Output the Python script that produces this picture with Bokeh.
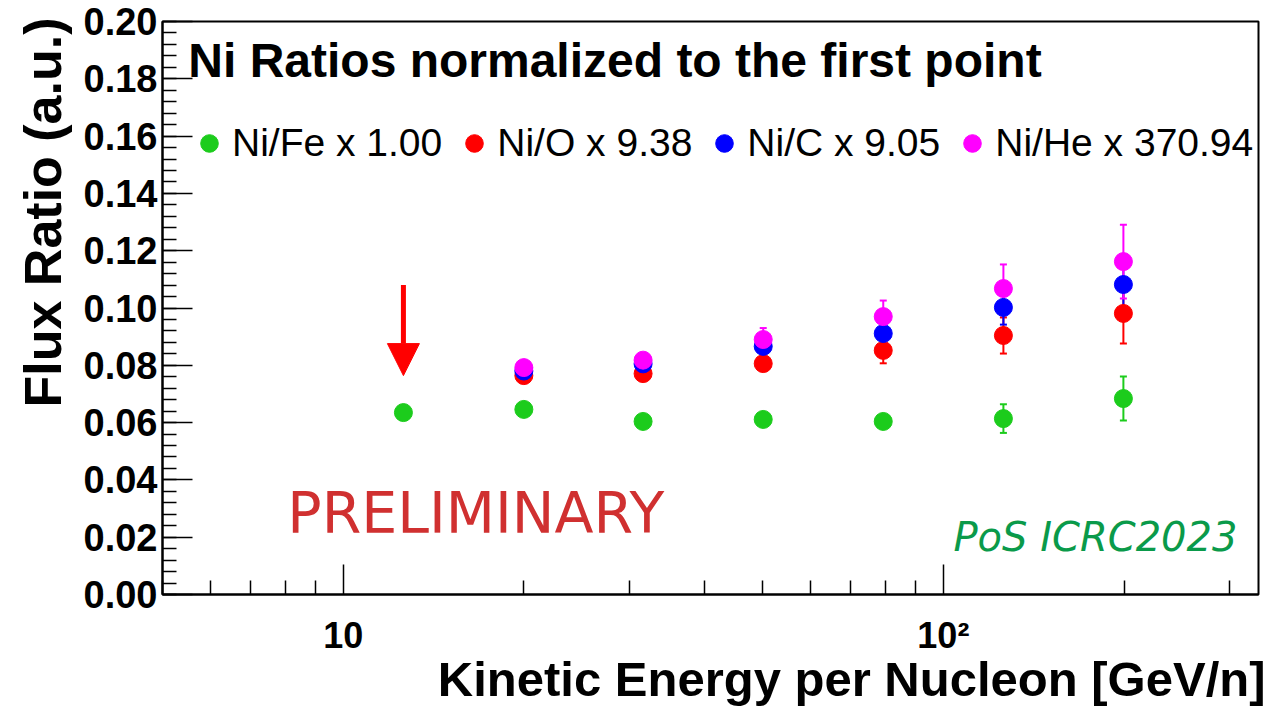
from bokeh.plotting import figure
from bokeh.models import (ColumnDataSource, Whisker, TeeHead, Legend, LegendItem, Label,
                          Arrow, NormalHead, FixedTicker, SingleIntervalTicker,
                          PrintfTickFormatter, Range1d, Title)
from bokeh.embed import file_html
from bokeh.resources import INLINE

# ---- data ----
energy_fe = [12.6, 20.0, 31.6, 50.1, 79.4, 125.9, 199.5]
ni_fe = [0.0635, 0.0646, 0.0604, 0.0611, 0.0604, 0.0614, 0.0684]
ni_fe_err = [0.0008, 0.0010, 0.0010, 0.0015, 0.0020, 0.0050, 0.0077]

energy_other = [20.0, 31.6, 50.1, 79.4, 125.9, 199.5]
ni_o = [0.0764, 0.0771, 0.0806, 0.0852, 0.0904, 0.0981]
ni_o_err = [0.0010, 0.0015, 0.0020, 0.0045, 0.0063, 0.0105]
ni_c = [0.0780, 0.0805, 0.0866, 0.0911, 0.1002, 0.1082]
ni_c_err = [0.0010, 0.0015, 0.0025, 0.0040, 0.0060, 0.0090]
ni_he = [0.0792, 0.0818, 0.0890, 0.0970, 0.1068, 0.1162]
ni_he_err = [0.0010, 0.0015, 0.0040, 0.0056, 0.0084, 0.0129]

series_labels = ["Ni/Fe x 1.00", "Ni/O x 9.38", "Ni/C x 9.05", "Ni/He x 370.94"]
series_colors = ["#1ccc1c", "#ff0000", "#0000ff", "#ff00ff"]

x_major_ticks = [10, 100]
x_minor_ticks = [5, 6, 7, 8, 9, 20, 30, 40, 50, 60, 70, 80, 90, 200, 300]

FONT = "Liberation Sans"

p = figure(width=1275, height=706, x_axis_type="log",
           x_range=Range1d(5, 335), y_range=Range1d(0, 0.2),
           output_backend="svg", toolbar_location=None,
           min_border_left=162, min_border_right=17,
           min_border_top=21, min_border_bottom=112)
p.xgrid.visible = False
p.ygrid.visible = False
p.outline_line_color = "black"
p.outline_line_width = 2
p.background_fill_color = "white"
p.border_fill_color = "white"

# axes
p.xaxis.ticker = FixedTicker(ticks=x_major_ticks, minor_ticks=x_minor_ticks)
p.xaxis.major_label_overrides = {10: "10", 100: "10²"}
p.yaxis.ticker = SingleIntervalTicker(interval=0.02, num_minor_ticks=5)
p.yaxis.formatter = PrintfTickFormatter(format="%.2f")

for ax in (p.xaxis[0], p.yaxis[0]):
    ax.axis_line_color = "black"
    ax.axis_line_width = 2
    ax.major_tick_in = 30
    ax.major_tick_out = 0
    ax.minor_tick_in = 14
    ax.minor_tick_out = 0
    ax.major_tick_line_color = "black"
    ax.minor_tick_line_color = "black"
    ax.major_tick_line_width = 1.5
    ax.minor_tick_line_width = 1.5
    ax.major_label_text_font = FONT
    ax.major_label_text_font_style = "bold"
    ax.major_label_text_color = "black"

p.yaxis.major_label_text_font_size = "38px"
p.yaxis.major_label_standoff = 5
p.xaxis.major_label_text_font_size = "36px"
p.xaxis.major_label_standoff = 20

# axis titles (ROOT style: aligned to the axis end)
p.add_layout(Title(text="Kinetic Energy per Nucleon [GeV/n]", align="right",
                   offset=-7, standoff=-18, text_font=FONT, text_font_style="bold",
                   text_font_size="49px", text_color="black"), "below")
p.add_layout(Title(text="Flux Ratio (a.u.)", align="right", offset=-4, standoff=18,
                   text_font=FONT, text_font_style="bold",
                   text_font_size="52px", text_color="black"), "left")

# data
datasets = [
    (energy_fe, ni_fe, ni_fe_err),
    (energy_other, ni_o, ni_o_err),
    (energy_other, ni_c, ni_c_err),
    (energy_other, ni_he, ni_he_err),
]
items = []
for (ex, yv, ye), lab, col in zip(datasets, series_labels, series_colors):
    src = ColumnDataSource(dict(x=ex, y=yv,
                                lo=[a - b for a, b in zip(yv, ye)],
                                hi=[a + b for a, b in zip(yv, ye)]))
    w = Whisker(base="x", upper="hi", lower="lo", source=src, dimension="height",
                line_color=col, line_width=2,
                upper_head=TeeHead(size=7, line_color=col, line_width=2),
                lower_head=TeeHead(size=7, line_color=col, line_width=2))
    p.add_layout(w)
    r = p.scatter("x", "y", source=src, size=18, marker="circle",
                  fill_color=col, line_color=col)
    items.append(LegendItem(label=lab, renderers=[r]))

legend = Legend(items=items, orientation="horizontal", location=(25, 429),
                glyph_width=44, glyph_height=44, label_height=44,
                label_standoff=1, spacing=10, padding=0, margin=0,
                label_text_font=FONT, label_text_font_size="39px",
                label_text_color="black",
                border_line_alpha=0, background_fill_alpha=0)
p.add_layout(legend)

# annotations
p.add_layout(Label(x=5.52, y=0.1864, text="Ni Ratios normalized to the first point",
                   text_font=FONT, text_font_style="bold", text_font_size="48px",
                   text_baseline="middle", text_color="black"))
p.add_layout(Label(x=8.07, y=0.0286, text="PRELIMINARY",
                   text_font="DejaVu Sans", text_font_size="57px",
                   text_baseline="middle", text_color="#d03030"))
p.add_layout(Label(x=309, y=0.0199, text="PoS ICRC2023", text_align="right",
                   text_font="DejaVu Sans", text_font_style="italic",
                   text_font_size="40px", text_baseline="middle",
                   text_color="#0a9a4a"))
p.add_layout(Arrow(x_start=12.6, y_start=0.108, x_end=12.6, y_end=0.0764,
                   line_color="red", line_width=5,
                   end=NormalHead(size=32, fill_color="red", line_color="red")))

open("out.html", "w").write(file_html(p, INLINE))
